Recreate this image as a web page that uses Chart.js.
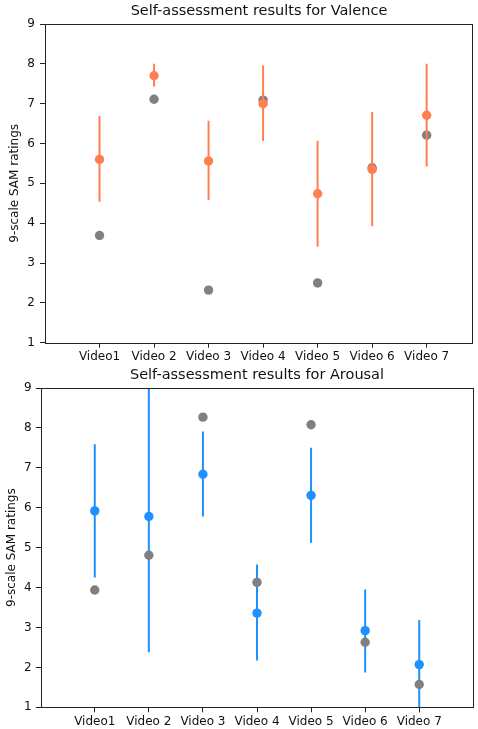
<!DOCTYPE html>
<html>
<head>
<meta charset="utf-8">
<script src="https://cdn.jsdelivr.net/npm/chart.js@4.4.1/dist/chart.umd.min.js"></script>
<style>
  html, body { margin: 0; padding: 0; background: #fff; }
  #wrap { position: relative; width: 478px; height: 729px; }
  .box { position: absolute; left: 0; width: 478px; }
</style>
</head>
<body>
<div id="wrap">
  <div class="box" style="top:0;height:365px;"><canvas id="c1" width="478" height="365"></canvas></div>
  <div class="box" style="top:365px;height:364px;"><canvas id="c2" width="478" height="364"></canvas></div>
</div>
<script>
// ---- data ----
const categories = ['Video1', 'Video 2', 'Video 3', 'Video 4', 'Video 5', 'Video 6', 'Video 7'];
const yTicks = [1, 2, 3, 4, 5, 6, 7, 8, 9];

const valenceMean = [5.60, 7.70, 5.56, 7.00, 4.74, 5.35, 6.71];
const valenceLow  = [4.54, 7.43, 4.58, 6.06, 3.41, 3.92, 5.42];
const valenceHigh = [6.69, 8.00, 6.57, 7.96, 6.07, 6.79, 8.00];
const valenceGray = [3.69, 7.11, 2.32, 7.09, 2.50, 5.39, 6.21];

const arousalMean = [5.92, 5.78, 6.84, 3.36, 6.31, 2.92, 2.07];
const arousalLow  = [4.25, 2.38, 5.78, 2.17, 5.12, 1.87, 0.95];
const arousalHigh = [7.59, 9.18, 7.91, 4.58, 7.50, 3.95, 3.19];
const arousalGray = [3.94, 4.81, 8.27, 4.13, 8.08, 2.63, 1.57];

const FONT = 'DejaVu Sans';

function points(vals) { return vals.map((v, i) => ({ x: i, y: v })); }
function errSegments(lo, hi) {
  const d = [];
  lo.forEach((l, i) => { d.push({ x: i, y: l }, { x: i, y: hi[i] }, { x: i, y: null }); });
  return d;
}

const framePlugin = {
  id: 'frame',
  afterDraw(chart, args, opts) {
    const { ctx, chartArea: a } = chart;
    ctx.save();
    ctx.strokeStyle = '#222';
    ctx.lineWidth = 1;
    ctx.strokeRect(Math.round(a.left) + 0.5, Math.round(a.top) + 0.5,
                   Math.round(a.right - a.left) - 1, Math.round(a.bottom - a.top));
    ctx.fillStyle = '#111';
    ctx.font = '14.5px "' + FONT + '"';
    ctx.textAlign = 'center';
    ctx.textBaseline = 'middle';
    ctx.fillText(opts.text, (a.left + a.right) / 2, opts.y);
    ctx.restore();
  }
};

function makeChart(id, cfg) {
  const ds = [
    { label: 'err', type: 'line', data: errSegments(cfg.low, cfg.high), showLine: true, spanGaps: false,
      borderColor: cfg.color, borderWidth: 2, pointRadius: 0, fill: false, order: cfg.orders[0] },
    { label: 'gray', data: points(cfg.gray), backgroundColor: '#808080', borderWidth: 0,
      pointRadius: 4.7, order: cfg.orders[1] },
    { label: 'mean', data: points(cfg.mean), backgroundColor: cfg.color, borderWidth: 0,
      pointRadius: 4.7, order: cfg.orders[2] }
  ];
  return new Chart(document.getElementById(id), {
    type: 'scatter',
    data: { datasets: ds },
    plugins: [framePlugin],
    options: {
      responsive: false,
      animation: false,
      events: [],
      layout: { padding: { top: cfg.top, right: cfg.right, left: 0, bottom: 0 } },
      plugins: {
        legend: { display: false },
        tooltip: { enabled: false },
        frame: { text: cfg.title, y: cfg.titleY }
      },
      scales: {
        x: {
          type: 'linear', min: -1, max: cfg.xmax,
          afterBuildTicks: (s) => { s.ticks = categories.map((_, i) => ({ value: i })); },
          afterFit: (s) => { s.height = cfg.xh; },
          ticks: { callback: (v) => categories[v], color: '#111', padding: 2, maxRotation: 0,
                   autoSkip: false, font: { family: FONT, size: 12 } },
          grid: { drawOnChartArea: false, drawTicks: true, tickLength: 5, color: '#222', lineWidth: 1 },
          border: { display: false }
        },
        y: {
          min: 1, max: 9,
          afterBuildTicks: (s) => { s.ticks = yTicks.map(v => ({ value: v })); },
          afterFit: (s) => { s.width = cfg.yw; },
          ticks: { color: '#111', padding: cfg.ypad, font: { family: FONT, size: 12 } },
          grid: { drawOnChartArea: false, drawTicks: true, tickLength: 5, color: '#222', lineWidth: 1 },
          border: { display: false },
          title: { display: true, text: '9-scale SAM ratings', color: '#111',
                   font: { family: FONT, size: 12 }, padding: { top: cfg.ytp, bottom: 0 } }
        }
      }
    }
  });
}

makeChart('c1', {
  title: 'Self-assessment results for Valence', titleY: 11.5,
  mean: valenceMean, low: valenceLow, high: valenceHigh, gray: valenceGray,
  color: '#FF7F50', orders: [2, 3, 1],
  top: 24, right: 5, xh: 22.3, yw: 45, xmax: 6.85, ypad: 5, ytp: 8
});
makeChart('c2', {
  title: 'Self-assessment results for Arousal', titleY: 10,
  mean: arousalMean, low: arousalLow, high: arousalHigh, gray: arousalGray,
  color: '#1E90FF', orders: [3, 1, 2],
  top: 23, right: 1, xh: 21.7, yw: 40.7, xmax: 7, ypad: 4, ytp: 5
});
</script>
</body>
</html>
